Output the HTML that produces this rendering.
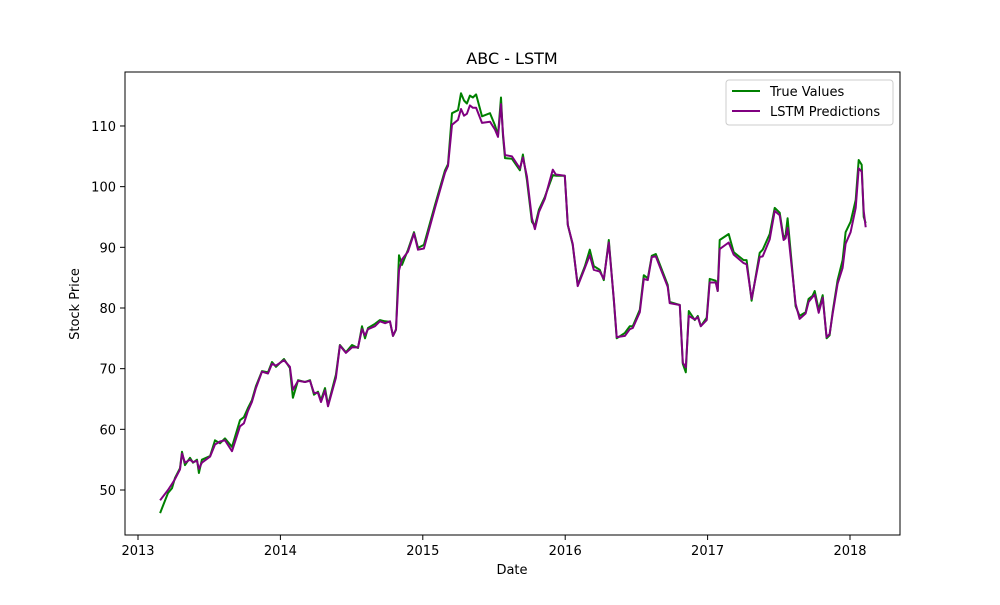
<!DOCTYPE html>
<html><head><meta charset="utf-8"><style>
body{margin:0;background:#fff;font-family:"Liberation Sans","DejaVu Sans",sans-serif}
svg text{font-family:"DejaVu Sans","Liberation Sans",sans-serif;fill:#000}
</style></head><body>
<svg id="chart" width="1000" height="600">
<rect x="0" y="0" width="1000" height="600" fill="#fff"/>
<text x="512" y="64" font-size="16" text-anchor="middle">ABC - LSTM</text>
<text x="512" y="574" font-size="13" text-anchor="middle">Date</text>
<text transform="translate(79,304) rotate(-90)" font-size="13" text-anchor="middle">Stock Price</text>
<g id="ticks"></g>
<g id="series"></g>
<rect x="125" y="72" width="775" height="463" fill="none" stroke="#000" stroke-width="1"/>
<g>
<rect x="726" y="80" width="167" height="45" rx="3" fill="#fff" stroke="#ccc"/>
<line x1="732" y1="91" x2="760" y2="91" stroke="green" stroke-width="2"/>
<text x="770" y="96" font-size="13">True Values</text>
<line x1="732" y1="111" x2="760" y2="111" stroke="purple" stroke-width="2"/>
<text x="770" y="116" font-size="13">LSTM Predictions</text>
</g>
</svg>
<script>
const dates=[2013.155,2013.211,2013.239,2013.260,2013.295,2013.309,2013.330,2013.365,2013.386,2013.414,2013.428,2013.449,2013.506,2013.541,2013.576,2013.611,2013.660,2013.716,2013.744,2013.772,2013.800,2013.828,2013.871,2013.913,2013.941,2013.969,2014.025,2014.067,2014.088,2014.124,2014.173,2014.208,2014.236,2014.264,2014.285,2014.313,2014.334,2014.390,2014.418,2014.460,2014.503,2014.545,2014.573,2014.594,2014.615,2014.664,2014.699,2014.735,2014.770,2014.791,2014.812,2014.833,2014.854,2014.896,2014.938,2014.966,2015.008,2015.086,2015.156,2015.177,2015.205,2015.247,2015.268,2015.289,2015.310,2015.331,2015.352,2015.374,2015.416,2015.472,2015.507,2015.528,2015.549,2015.563,2015.577,2015.626,2015.682,2015.703,2015.731,2015.766,2015.787,2015.815,2015.857,2015.913,2015.934,2015.997,2016.018,2016.053,2016.088,2016.138,2016.173,2016.201,2016.243,2016.271,2016.306,2016.341,2016.362,2016.419,2016.454,2016.475,2016.524,2016.552,2016.580,2016.608,2016.636,2016.720,2016.734,2016.805,2016.826,2016.847,2016.868,2016.910,2016.931,2016.952,2016.994,2017.015,2017.057,2017.071,2017.085,2017.148,2017.183,2017.253,2017.274,2017.309,2017.366,2017.387,2017.436,2017.471,2017.506,2017.534,2017.548,2017.562,2017.618,2017.646,2017.688,2017.709,2017.737,2017.752,2017.780,2017.808,2017.836,2017.857,2017.878,2017.913,2017.948,2017.969,2018.004,2018.040,2018.061,2018.082,2018.096,2018.110];
const trueValues=[46.2,49.5,50.3,52,53.6,56.3,54.1,55.3,54.5,55,52.8,55,55.6,58.2,57.7,58.5,57.1,61.5,62,63.5,64.8,67.1,69.6,69.4,71.1,70.3,71.6,70.1,65.2,68.1,67.8,68.1,65.7,66.2,64.8,66.8,64,69,73.9,72.7,73.9,73.4,77,75,76.7,77.4,78,77.8,77.7,75.4,76.4,88.7,87.1,89.6,92.5,89.9,90.4,97,102.7,103.7,112.1,112.6,115.4,114.2,113.7,115,114.7,115.2,111.6,112.1,110.1,108.5,114.7,108.3,104.7,104.6,102.7,105.3,101.1,94.2,93.5,96.2,98.3,101.9,101.8,101.8,93.7,90.4,83.8,86.9,89.6,86.9,86.3,84.6,91.2,81.3,75,75.9,77,77,79.7,85.4,84.9,88.6,88.9,83.8,81,80.5,70.8,69.4,79.5,78,78.7,77,78.4,84.8,84.5,82.8,91.2,92.2,89.2,87.9,87.9,81.2,89.1,89.6,92.2,96.5,95.7,91.5,92,94.8,80.3,78.7,79.3,81.5,82,82.8,79.7,82.1,75,75.5,79.3,84.6,87.9,92.5,94.2,97.8,104.4,103.6,95,94];
const predValues=[48.3,50,51,51.8,53.4,56,54.5,55,54.6,54.8,53.5,54.5,55.5,57.5,58,58.2,56.4,60.5,61,63,64.5,66.8,69.5,69.2,70.8,70.5,71.4,70.3,66.5,68,67.8,68,66,66,64.5,66.4,63.8,68.5,73.8,72.6,73.5,73.5,76.5,75.5,76.5,77,77.8,77.5,77.8,75.4,76.5,86.2,88,89.3,92.3,89.6,89.8,96.5,102.3,103.4,110.2,111,112.8,111.7,112,113.4,113,113,110.5,110.7,109.4,108.2,113.6,108.8,105.2,105,103,104.8,101.7,94.8,93,95.8,98,102.8,102,101.8,93.7,90.6,83.6,86.6,88.7,86.3,86,84.8,90.8,81.5,75.2,75.4,76.5,76.7,79.3,84.8,84.6,88.4,88.5,83.5,80.8,80.5,71,70.2,78.7,78.1,78.5,77,78,84.2,84.2,82.8,89.7,90.8,88.8,87.4,87.2,81.5,88.4,88.5,91.3,96,95.3,91.2,91.5,93.2,80.7,78.2,79.1,81,81.8,82.2,79.2,81.7,75.2,75.7,79,84,86.6,90.6,92.5,96.5,103,102.5,96,93.3];
const xTicks=[2013,2014,2015,2016,2017,2018];
const yTicks=[50,60,70,80,90,100,110];

const xS=v=>138+(v-2013)*142.4;
const yS=v=>490-(v-50)*6.067;
const NS='http://www.w3.org/2000/svg';
const tg=document.getElementById('ticks');
xTicks.forEach(t=>{
  const l=document.createElementNS(NS,'line');
  l.setAttribute('x1',xS(t));l.setAttribute('x2',xS(t));l.setAttribute('y1',535);l.setAttribute('y2',540);l.setAttribute('stroke','#000');
  
  
  tg.appendChild(l);
  const tx=document.createElementNS(NS,'text');
  tx.setAttribute('x',xS(t));tx.setAttribute('y',555);tx.setAttribute('font-size','13');tx.setAttribute('text-anchor','middle');
  tx.textContent=t;
  
  
  tg.appendChild(tx);
});
yTicks.forEach(t=>{
  const l=document.createElementNS(NS,'line');
  l.setAttribute('x1',120);l.setAttribute('x2',125);l.setAttribute('y1',yS(t));l.setAttribute('y2',yS(t));l.setAttribute('stroke','#000');
  
  
  tg.appendChild(l);
  const tx=document.createElementNS(NS,'text');
  tx.setAttribute('x',116);tx.setAttribute('y',yS(t)+5);tx.setAttribute('font-size','13');tx.setAttribute('text-anchor','end');
  tx.textContent=t;
  
  
  tg.appendChild(tx);
});
const sg=document.getElementById('series');
function line(vals,color,name){
  const n=Math.min(dates.length,vals.length);
  let d='';
  for(let i=0;i<n;i++)d+=(i?'L':'M')+xS(dates[i]).toFixed(1)+','+yS(vals[i]).toFixed(1);
  const p=document.createElementNS(NS,'path');
  p.setAttribute('d',d);p.setAttribute('fill','none');p.setAttribute('stroke',color);p.setAttribute('stroke-width','2');p.setAttribute('stroke-linejoin','round');
  
  
  sg.appendChild(p);
}
line(trueValues,'green','true-values-line');
line(predValues,'purple','lstm-predictions-line');
</script>
</body></html>
